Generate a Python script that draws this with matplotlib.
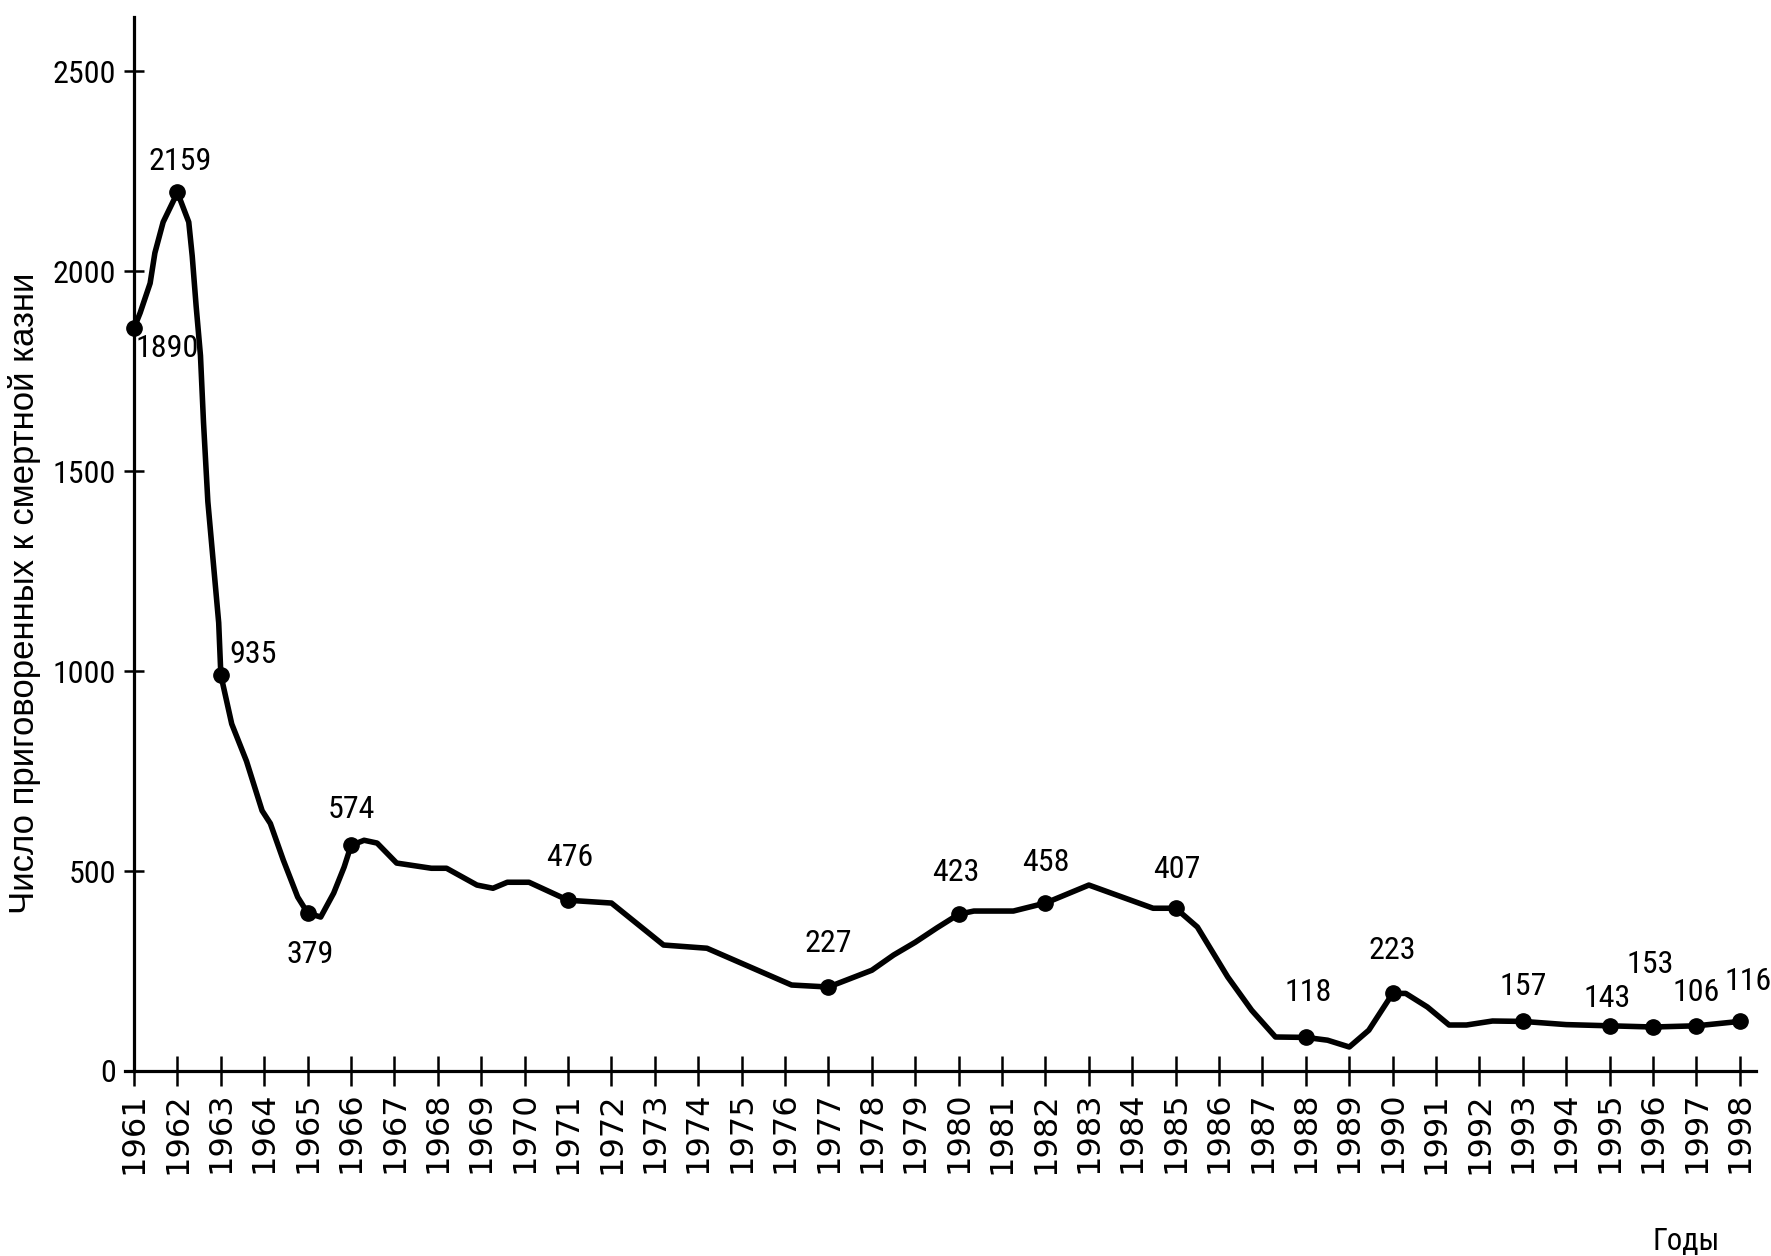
import numpy as np
import matplotlib
matplotlib.use("Agg")
from matplotlib import pyplot as plt
from matplotlib import font_manager

# curve as drawn (year)
line_years = [1961, 1961.14, 1961.37, 1961.48, 1961.67, 1962, 1962.26, 1962.34, 1962.43,
              1962.53, 1962.6, 1962.7, 1962.95, 1963, 1963.25, 1963.59, 1963.95, 1964.14,
              1964.44, 1964.77, 1965, 1965.3, 1965.6, 1965.84, 1966, 1966.3, 1966.6,
              1967.05, 1967.85, 1968.2, 1968.9, 1969.27, 1969.6, 1970.1, 1971, 1972,
              1973.2, 1974.2, 1976.15, 1977, 1978, 1978.5, 1979, 1979.5, 1980, 1980.35,
              1981.26, 1982, 1983, 1984.48, 1985, 1985.5, 1986.2, 1986.75, 1987.3, 1988,
              1988.5, 1989, 1989.45, 1990, 1990.3, 1990.8, 1991.3, 1991.7, 1992.3, 1993,
              1994, 1995, 1996, 1997, 1998]
line_vals = [1858, 1896, 1970, 2046, 2123, 2197, 2123, 2038, 1913,
             1789, 1622, 1424, 1121, 990, 868, 775, 651, 619,
             527, 435, 395, 385, 445, 510, 564, 577, 570,
             520, 507, 507, 465, 457, 472, 472, 427, 420,
             315, 307, 215, 210, 252, 290, 322, 358, 392, 400,
             400, 420, 465, 407, 407, 360, 235, 152, 85, 84,
             77, 60, 102, 194, 194, 160, 115, 115, 125, 124,
             116, 113, 110, 113, 124]

# marked points and their printed labels
mark_years = [1961, 1962, 1963, 1965, 1966, 1971, 1977, 1980, 1982, 1985,
              1988, 1990, 1993, 1995, 1996, 1997, 1998]
mark_vals = [1858, 2197, 990, 395, 564, 427, 210, 392, 420, 407,
             84, 194, 124, 113, 110, 113, 124]
mark_labels = ["1890", "2159", "935", "379", "574", "476", "227", "423", "458", "407",
               "118", "223", "157", "143", "153", "106", "116"]
# label offsets in points (dx, dy)
label_offsets = [(24, -15), (2, 22), (23, 15), (2, -30), (0, 26), (1, 31), (0, 31), (-2, 30),
                 (0, 29), (1, 28), (2, 32), (0, 31), (0, 25), (-2, 20), (-2, 45), (0, 24), (6, 29)]

years = list(range(1961, 1999))
yticks = [0, 500, 1000, 1500, 2000, 2500]

installed = {f.name for f in font_manager.fontManager.ttflist}
narrow_pick = [n for n in ["Liberation Sans Narrow", "Roboto Condensed", "Open Sans Condensed",
                           "Liberation Sans"] if n in installed]
narrow = narrow_pick[:1] + ["DejaVu Sans"]

fig = plt.figure(figsize=(17.71, 12.56), dpi=100)
ax = fig.add_axes([0.0708, 0.1473, 0.9207, 0.8392])

ax.plot(line_years, line_vals, color="black", lw=4, solid_joinstyle="round",
        solid_capstyle="round")
ax.plot(mark_years, mark_vals, "o", color="black", ms=11)

for x, y, t, (dx, dy) in zip(mark_years, mark_vals, mark_labels, label_offsets):
    ax.annotate(t, (x, y), xytext=(dx, dy), textcoords="offset points",
                ha="center", va="center", fontsize=23, family=narrow)

ax.set_xlim(1960.8, 1998.37)
ax.set_ylim(0, 2636)
ax.spines["top"].set_visible(False)
ax.spines["right"].set_visible(False)
ax.spines["left"].set_position(("data", 1961))
ax.spines["left"].set_linewidth(2.3)
ax.spines["bottom"].set_linewidth(2.3)

ax.set_xticks(years)
ax.set_xticklabels([str(y) for y in years], rotation=90, fontsize=23)
ax.set_yticks(yticks)
ax.set_yticklabels([str(v) for v in yticks], fontsize=23, family=narrow)
ax.tick_params(axis="x", direction="inout", length=22, width=1.8, pad=4)
ax.tick_params(axis="y", direction="inout", length=14, width=1.8, pad=6)

fig.text(0.014, 0.528, "Число приговоренных к смертной казни", rotation=90,
         ha="center", va="center", fontsize=25, family=["Liberation Sans", "DejaVu Sans"])
fig.text(0.952, 0.0115, "Годы", ha="center", va="center", fontsize=22, family=narrow)

fig.savefig("out.png", dpi=100, facecolor="white")
